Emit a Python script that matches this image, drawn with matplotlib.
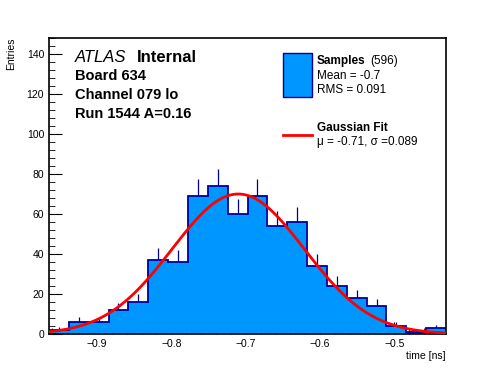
import numpy as np
import matplotlib
matplotlib.use('Agg')
import matplotlib.pyplot as plt
from matplotlib.ticker import MultipleLocator, FuncFormatter
from matplotlib.patches import Rectangle
from matplotlib.lines import Line2D

plt.rcParams['font.family'] = ['Liberation Sans', 'DejaVu Sans']

# histogram data
x_lo = -0.9645
x_hi = -0.4305
counts = [2, 6, 6, 12, 16, 37, 36, 69, 74, 60, 69, 54, 56, 34, 24, 18, 14, 4, 1, 3]
fit_amp = 70.0
fit_mu = -0.71
fit_sigma = 0.089

edges = np.linspace(x_lo, x_hi, len(counts) + 1)
centers = 0.5 * (edges[:-1] + edges[1:])
counts = np.array(counts)
errs = np.sqrt(counts)

W, H = 496, 372
fig = plt.figure(figsize=(W / 100, H / 100), dpi=100)
ax = fig.add_axes([49 / W, 1 - 334 / H, 397 / W, 296 / H])

fill_col = '#0096ff'
line_col = '#000099'

# error bars first so the fill hides the lower half
ax.errorbar(centers, counts, yerr=errs, fmt='none', ecolor=line_col, elinewidth=0.9, zorder=1)
ax.stairs(counts, edges, fill=True, color=fill_col, zorder=2)
ax.stairs(counts, edges, color=line_col, linewidth=1.3, zorder=3)

xs = np.linspace(x_lo, x_hi, 400)
ax.plot(xs, fit_amp * np.exp(-0.5 * ((xs - fit_mu) / fit_sigma) ** 2), color='red', linewidth=2, zorder=4)

ax.set_xlim(x_lo, x_hi)
ax.set_ylim(0, 148)
ax.xaxis.set_major_locator(MultipleLocator(0.1))
ax.xaxis.set_minor_locator(MultipleLocator(0.02))
ax.yaxis.set_major_locator(MultipleLocator(20))
ax.yaxis.set_minor_locator(MultipleLocator(4))
ax.tick_params(which='both', direction='in', labelsize=7.5, top=False, right=False)
ax.tick_params(which='major', length=9)
ax.tick_params(which='minor', length=4.5)
ax.xaxis.set_major_formatter(FuncFormatter(lambda v, p: ('%.1f' % v).replace('-', '\u2212')))
for s in ax.spines.values():
    s.set_linewidth(1.2)

fig.text(11 / W, 1 - 38 / H, 'Entries', rotation=90, ha='center', va='top', fontsize=7.5)
fig.text(446 / W, 1 - 356 / H, 'time [ns]', ha='right', va='center', fontsize=7.5)

# labels at the top left
fig.text(75 / W, 1 - 57 / H, 'ATLAS', style='italic', fontsize=12, va='center')
fig.text(136.5 / W, 1 - 57 / H, 'Internal', weight='bold', fontsize=12, va='center')
fig.text(75 / W, 1 - 76 / H, 'Board 634', weight='bold', fontsize=10.5, va='center')
fig.text(75 / W, 1 - 95 / H, 'Channel 079 lo', weight='bold', fontsize=10.5, va='center')
fig.text(75 / W, 1 - 114 / H, 'Run 1544 A=0.16', weight='bold', fontsize=10.5, va='center')

# legend
fig.patches.append(Rectangle((283 / W, 1 - 97 / H), 29 / W, 44 / H, transform=fig.transFigure,
                             facecolor=fill_col, edgecolor=line_col, linewidth=1))
fig.text(317 / W, 1 - 61 / H, 'Samples', weight='bold', fontsize=8.5, va='center')
fig.text(370 / W, 1 - 61 / H, '(596)', fontsize=8.5, va='center')
fig.text(317 / W, 1 - 76 / H, 'Mean = -0.7', fontsize=8.5, va='center')
fig.text(317 / W, 1 - 90 / H, 'RMS = 0.091', fontsize=8.5, va='center')
fig.lines.append(Line2D([283 / W, 312 / W], [1 - 135 / H, 1 - 135 / H], transform=fig.transFigure,
                        color='red', linewidth=2))
fig.text(317 / W, 1 - 128 / H, 'Gaussian Fit', weight='bold', fontsize=8.5, va='center')
fig.text(317 / W, 1 - 142 / H, '\u03bc = -0.71, \u03c3 =0.089', fontsize=8.5, va='center')

fig.savefig('out.png', dpi=100)
